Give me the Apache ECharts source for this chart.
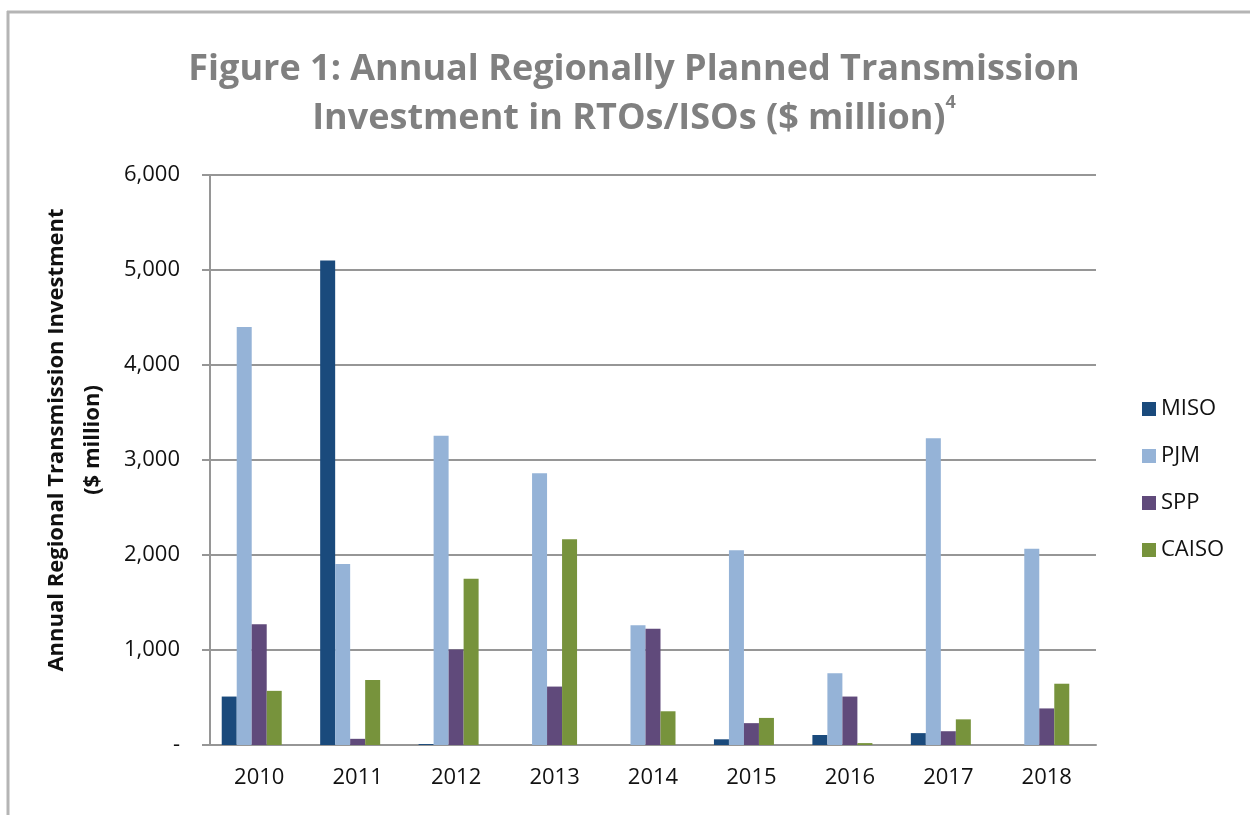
<!DOCTYPE html>
<html>
<head>
<meta charset="utf-8">
<script src="https://cdn.jsdelivr.net/npm/echarts@6/dist/echarts.min.js"></script>
<style>
html,body{margin:0;padding:0;background:#fff;}
#chart{width:1250px;height:815px;}
</style>
</head>
<body>
<div id="chart"></div>
<script>
const years = ['2010','2011','2012','2013','2014','2015','2016','2017','2018'];
const miso  = [510, 5100, 10, 0, 0, 60, 105, 125, 0];
const pjm   = [4400, 1905, 3255, 2860, 1260, 2050, 755, 3230, 2065];
const spp   = [1270, 65, 1005, 615, 1225, 230, 510, 145, 385];
const caiso = [570, 685, 1750, 2165, 355, 285, 20, 270, 645];
const seriesNames = ['MISO','PJM','SPP','CAISO'];
const colors = ['#1a4a7c','#95b3d7','#604a7b','#77933c'];
const yTicks = [0, 1000, 2000, 3000, 4000, 5000, 6000];

const chart = echarts.init(document.getElementById('chart'));
const font = '"Open Sans", "Noto Sans", sans-serif';
const gridColor = '#969696';

function fmt(v){
  if (v === 0) return '-';
  return v.toLocaleString('en-US');
}

const dataSets = [miso, pjm, spp, caiso];
const series = dataSets.map((d, i) => ({
  name: seriesNames[i],
  type: 'bar',
  data: d,
  barWidth: 15,
  barGap: '0%',
  itemStyle: { color: colors[i] }
}));
// empty slot the original chart reserves in each category group
series.push({ name: 'slot', type: 'bar', data: [], barWidth: 15, barGap: '0%' });

chart.setOption({
  backgroundColor: '#fff',
  animation: false,
  title: {
    text: 'Figure 1: Annual Regionally Planned Transmission\nInvestment in RTOs/ISOs ($ million){sup|4}',
    left: 629,
    top: 40,
    textAlign: 'center',
    textStyle: {
      fontFamily: font,
      fontWeight: 'bold',
      fontSize: 36,
      color: '#808080',
      lineHeight: 49,
      rich: {
        sup: { fontFamily: font, fontWeight: 'bold', fontSize: 18, color: '#808080', verticalAlign: 'top', lineHeight: 44 }
      }
    }
  },
  legend: {
    data: seriesNames,
    orient: 'vertical',
    left: 1137,
    top: 393,
    itemWidth: 14,
    itemHeight: 14,
    itemGap: 25,
    icon: 'rect',
    textStyle: { fontFamily: font, fontSize: 22, color: '#111' }
  },
  grid: { left: 210, right: 154, top: 175, bottom: 70 },
  xAxis: {
    type: 'category',
    data: years,
    axisLine: { show: true, lineStyle: { color: gridColor, width: 2 } },
    axisTick: { show: false },
    axisLabel: { fontFamily: font, fontSize: 22, color: '#111', margin: 22 }
  },
  yAxis: {
    type: 'value',
    min: 0,
    max: 6000,
    interval: 1000,
    axisLine: { show: true, lineStyle: { color: gridColor, width: 2 } },
    axisTick: { show: true, inside: false, length: 8, lineStyle: { color: gridColor, width: 2 } },
    splitLine: { show: true, lineStyle: { color: gridColor, width: 2 } },
    axisLabel: { fontFamily: font, fontSize: 22, color: '#111', margin: 30, formatter: fmt }
  },
  graphic: [
    { type: 'line', shape: { x1: 7, y1: 12, x2: 1250, y2: 12 }, style: { stroke: '#b5b5b5', lineWidth: 3 } },
    { type: 'line', shape: { x1: 8, y1: 11, x2: 8, y2: 815 }, style: { stroke: '#b5b5b5', lineWidth: 3 } },
    {
      type: 'text',
      x: 75, y: 440,
      rotation: Math.PI / 2,
      style: {
        text: 'Annual Regional Transmission Investment\n($ million)',
        x: 0, y: 0,
        textAlign: 'center',
        textVerticalAlign: 'middle',
        font: 'bold 22px ' + font,
        lineHeight: 36,
        fill: '#111'
      }
    }
  ],
  series: series
});
</script>
</body>
</html>
